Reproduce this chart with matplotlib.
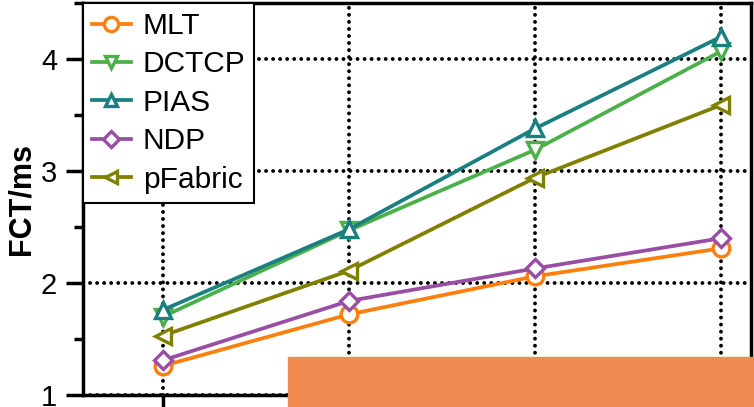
import numpy as np
import matplotlib
matplotlib.use("Agg")
import matplotlib.pyplot as plt
from matplotlib.patches import Rectangle
from matplotlib.ticker import MultipleLocator

plt.rcParams['font.family'] = ['Liberation Sans', 'DejaVu Sans']
plt.rcParams['lines.dash_capstyle'] = 'round'

# x positions (labels are cut off in the reference)
x = [0, 1, 2, 3]
mlt = [1.26, 1.72, 2.06, 2.31]
dctcp = [1.70, 2.47, 3.19, 4.07]
pias = [1.76, 2.48, 3.38, 4.20]
ndp = [1.31, 1.84, 2.13, 2.40]
pfabric = [1.53, 2.11, 2.94, 3.59]

names = ['MLT', 'DCTCP', 'PIAS', 'NDP', 'pFabric']
series = [mlt, dctcp, pias, ndp, pfabric]
colors = ['#ff7f0e', '#4cb04a', '#1a7f80', '#984ea3', '#808000']
markers = ['o', 'v', '^', 'D', '<']
msizes = [12, 11, 11, 9.5, 11]

fig = plt.figure(figsize=(7.54, 4.07), dpi=100)
ax = fig.add_axes([0.110, 0.0295, 0.886, 0.963])

for name, ys, c, m, ms in zip(names, series, colors, markers, msizes):
    ax.plot(x, ys, color=c, lw=2.7, marker=m, ms=ms, mfc='white',
            mec=c, mew=2.4, label=name, zorder=3)

ax.set_xlim(-0.43, 3.16)
ax.set_ylim(1, 4.5)
ax.set_xticks(x)
ax.set_xticklabels([''] * len(x))
ax.yaxis.set_major_locator(MultipleLocator(1))
ax.yaxis.set_minor_locator(MultipleLocator(0.5))
ax.grid(True, which='major', color='black', lw=2.8, ls=(0, (0.01, 1.8)))
ax.tick_params(which='major', length=12.5, width=2.5, labelsize=21, pad=6)
ax.tick_params(which='minor', length=6.5, width=2.5)
for s in ax.spines.values():
    s.set_linewidth(2.5)
ax.set_ylabel('FCT/ms', fontsize=22, fontweight='bold', labelpad=3)

leg = ax.legend(loc='upper left', fontsize=21.5, frameon=True, fancybox=False,
                edgecolor='black', borderaxespad=0, handlelength=1.3,
                handletextpad=0.4, labelspacing=0.35, borderpad=0.3,
                framealpha=1, markerscale=0.85)
leg.get_frame().set_linewidth(1.5)

# orange block covering the lower right corner
fig.patches.append(Rectangle((288 / 754, 0), 1 - 288 / 754, 50 / 407,
                             transform=fig.transFigure, color='#ef8b51',
                             zorder=10))

fig.savefig('out.png', dpi=100)
